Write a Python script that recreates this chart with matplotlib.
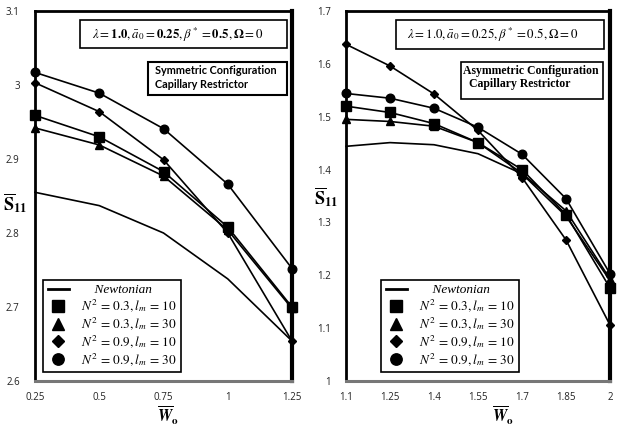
import matplotlib
matplotlib.use("Agg")
import matplotlib.pyplot as plt
from matplotlib.lines import Line2D
from matplotlib.patches import Rectangle

plt.rcParams['mathtext.fontset'] = 'stix'
plt.rcParams['font.family'] = ['Open Sans', 'DejaVu Sans']

# ---------------- data ----------------
# Left panel: symmetric configuration
w_sym = [0.25, 0.5, 0.75, 1.0, 1.25]
sym_newtonian = [2.855, 2.837, 2.800, 2.738, 2.654]
sym_n03_l10 = [2.959, 2.930, 2.883, 2.808, 2.700]
sym_n03_l30 = [2.942, 2.919, 2.877, 2.804, 2.698]
sym_n09_l10 = [3.003, 2.964, 2.899, 2.800, 2.654]
sym_n09_l30 = [3.017, 2.989, 2.941, 2.866, 2.752]

# Right panel: asymmetric configuration
w_asym = [1.1, 1.25, 1.4, 1.55, 1.7, 1.85, 2.0]
asym_newtonian = [1.444, 1.451, 1.447, 1.430, 1.392, 1.312, 1.190]
asym_n03_l10 = [1.520, 1.508, 1.487, 1.451, 1.400, 1.315, 1.176]
asym_n03_l30 = [1.495, 1.491, 1.482, 1.451, 1.393, 1.322, 1.193]
asym_n09_l10 = [1.637, 1.596, 1.543, 1.474, 1.385, 1.267, 1.106]
asym_n09_l30 = [1.544, 1.535, 1.516, 1.480, 1.429, 1.345, 1.203]

sym_xticks = [0.25, 0.5, 0.75, 1.0, 1.25]
sym_xlabels = ["0.25", "0.5", "0.75", "1", "1.25"]
sym_yticks = [2.6, 2.7, 2.8, 2.9, 3.0, 3.1]
sym_ylabels = ["2.6", "2.7", "2.8", "2.9", "3", "3.1"]
asym_xticks = [1.1, 1.25, 1.4, 1.55, 1.7, 1.85, 2.0]
asym_xlabels = ["1.1", "1.25", "1.4", "1.55", "1.7", "1.85", "2"]
asym_yticks = [1.0, 1.1, 1.2, 1.3, 1.4, 1.5, 1.6, 1.7]
asym_ylabels = ["1", "1.1", "1.2", "1.3", "1.4", "1.5", "1.6", "1.7"]

legend_labels = ["    Newtonian",
                 r"$N^2\,=\,0.3, l_m\,=\,10$",
                 r"$N^2\,=\,0.3, l_m\,=\,30$",
                 r"$N^2\,=\,0.9, l_m\,=\,10$",
                 r"$N^2\,=\,0.9, l_m\,=\,30$"]
markers = ['s', '^', 'D', 'o']
msizes = [6.5, 6, 4.2, 6.2]

W, H = 617, 426
fig = plt.figure(figsize=(W / 100, H / 100), dpi=100)
axL = fig.add_axes([35/W, 1-381/H, (292-35)/W, (381-11)/H])
axR = fig.add_axes([346/W, 1-381/H, (610-346)/W, (381-11)/H])


def draw(ax, x, newt, series, xticks, xlabels, yticks, ylabels, xlim, ylim,
         leg_anchor):
    ax.plot(x, newt, color='black', lw=1.2, clip_on=False, zorder=3)
    for s, m, ms in zip(series, markers, msizes):
        ax.plot(x, s, color='black', lw=1.2, marker=m, ms=ms,
                clip_on=False, zorder=4)
    ax.set_xlim(*xlim)
    ax.set_ylim(*ylim)
    ax.set_xticks(xticks)
    ax.set_xticklabels(xlabels)
    ax.set_yticks(yticks)
    ax.set_yticklabels(ylabels)
    ax.tick_params(axis='both', length=0, labelsize=7, colors='#222222')
    ax.tick_params(axis='x', pad=8)
    ax.tick_params(axis='y', pad=11)
    for side in ['left', 'top']:
        ax.spines[side].set_linewidth(2.0)
        ax.spines[side].set_color('black')
    ax.spines['right'].set_linewidth(3.0)
    ax.spines['right'].set_color('black')
    ax.spines['bottom'].set_linewidth(2.2)
    ax.spines['bottom'].set_color('#777777')
    ax.set_ylabel(r"$\overline{\mathbf{S}}_{\mathbf{11}}$", fontsize=13,
                  rotation=0, labelpad=0, va='center', ha='center')
    ax.set_xlabel(r"$\overline{\mathbfit{W}}_{\mathbf{o}}$", fontsize=11.5,
                  labelpad=0, va='center')
    handles = [Line2D([], [], color='black', lw=2.0)]
    for m, ms in zip(markers, msizes):
        handles.append(Line2D([], [], color='black', ls='none', marker=m,
                              ms=ms + 2))
    leg = ax.legend(handles, legend_labels, loc='lower left',
                    bbox_to_anchor=leg_anchor, borderaxespad=0,
                    fancybox=False, edgecolor='black', framealpha=1,
                    prop={'family': ['Liberation Serif'], 'style': 'italic',
                          'size': 9.5},
                    handlelength=1.6, labelspacing=0.08, borderpad=0.35,
                    handletextpad=0.9)
    leg.get_frame().set_linewidth(1.2)
    leg.set_zorder(6)


draw(axL, w_sym, sym_newtonian,
     [sym_n03_l10, sym_n03_l30, sym_n09_l10, sym_n09_l30],
     sym_xticks, sym_xlabels, sym_yticks, sym_ylabels, (0.25, 1.25), (2.6, 3.1),
     (0.031, 0.024))
draw(axR, w_asym, asym_newtonian,
     [asym_n03_l10, asym_n03_l30, asym_n09_l10, asym_n09_l30],
     asym_xticks, asym_xlabels, asym_yticks, asym_ylabels, (1.1, 2.0), (1.0, 1.7),
     (0.133, 0.024))

axL.yaxis.set_label_coords((15-35)/257, (381-203)/370)
axR.yaxis.set_label_coords((326-346)/264, (381-197)/370)
axL.xaxis.set_label_coords((168-35)/257, -(416-381)/370)
axR.xaxis.set_label_coords((503-346)/264, -(416-381)/370)


def box(x0, y0, x1, y1, lw):
    fig.patches.append(Rectangle((x0/W, 1-y1/H), (x1-x0)/W, (y1-y0)/H,
                                 transform=fig.transFigure, fc='white',
                                 ec='black', lw=lw, zorder=5))


param_bold = r"$\lambda=\mathbf{1.0}, \bar{a}_0=\mathbf{0.25}, \beta^*=\mathbf{0.5}, \mathbf{\Omega}=0$"
param = r"$\lambda=1.0, \bar{a}_0=0.25, \beta^*=0.5, \Omega=0$"

box(80, 20, 287, 48, 1.2)
fig.text(92/W, 1-35/H, param_bold, ha='left', va='center', fontsize=9.3,
         zorder=6)
box(396, 20, 604, 49, 1.2)
fig.text(407/W, 1-35/H, param, ha='left', va='center', fontsize=9.3, zorder=6)

box(148, 62, 287, 95, 1.5)
fig.text(155/W, 1-70/H, "Symmetric Configuration", ha='left', va='center',
         fontsize=7.8, fontweight='bold', family=['Lato'], zorder=6)
fig.text(155/W, 1-85/H, "Capillary Restrictor", ha='left', va='center',
         fontsize=7.8, fontweight='bold', family=['Lato'], zorder=6)
box(461, 62, 603, 99, 1.2)
fig.text(463/W, 1-71/H, "Asymmetric Configuration", ha='left', va='center',
         fontsize=8.5, fontweight='bold', family=['Liberation Serif'], zorder=6)
fig.text(469/W, 1-84/H, "Capillary Restrictor", ha='left', va='center',
         fontsize=8.5, fontweight='bold', family=['Liberation Serif'], zorder=6)

fig.savefig("out.png", dpi=100)
